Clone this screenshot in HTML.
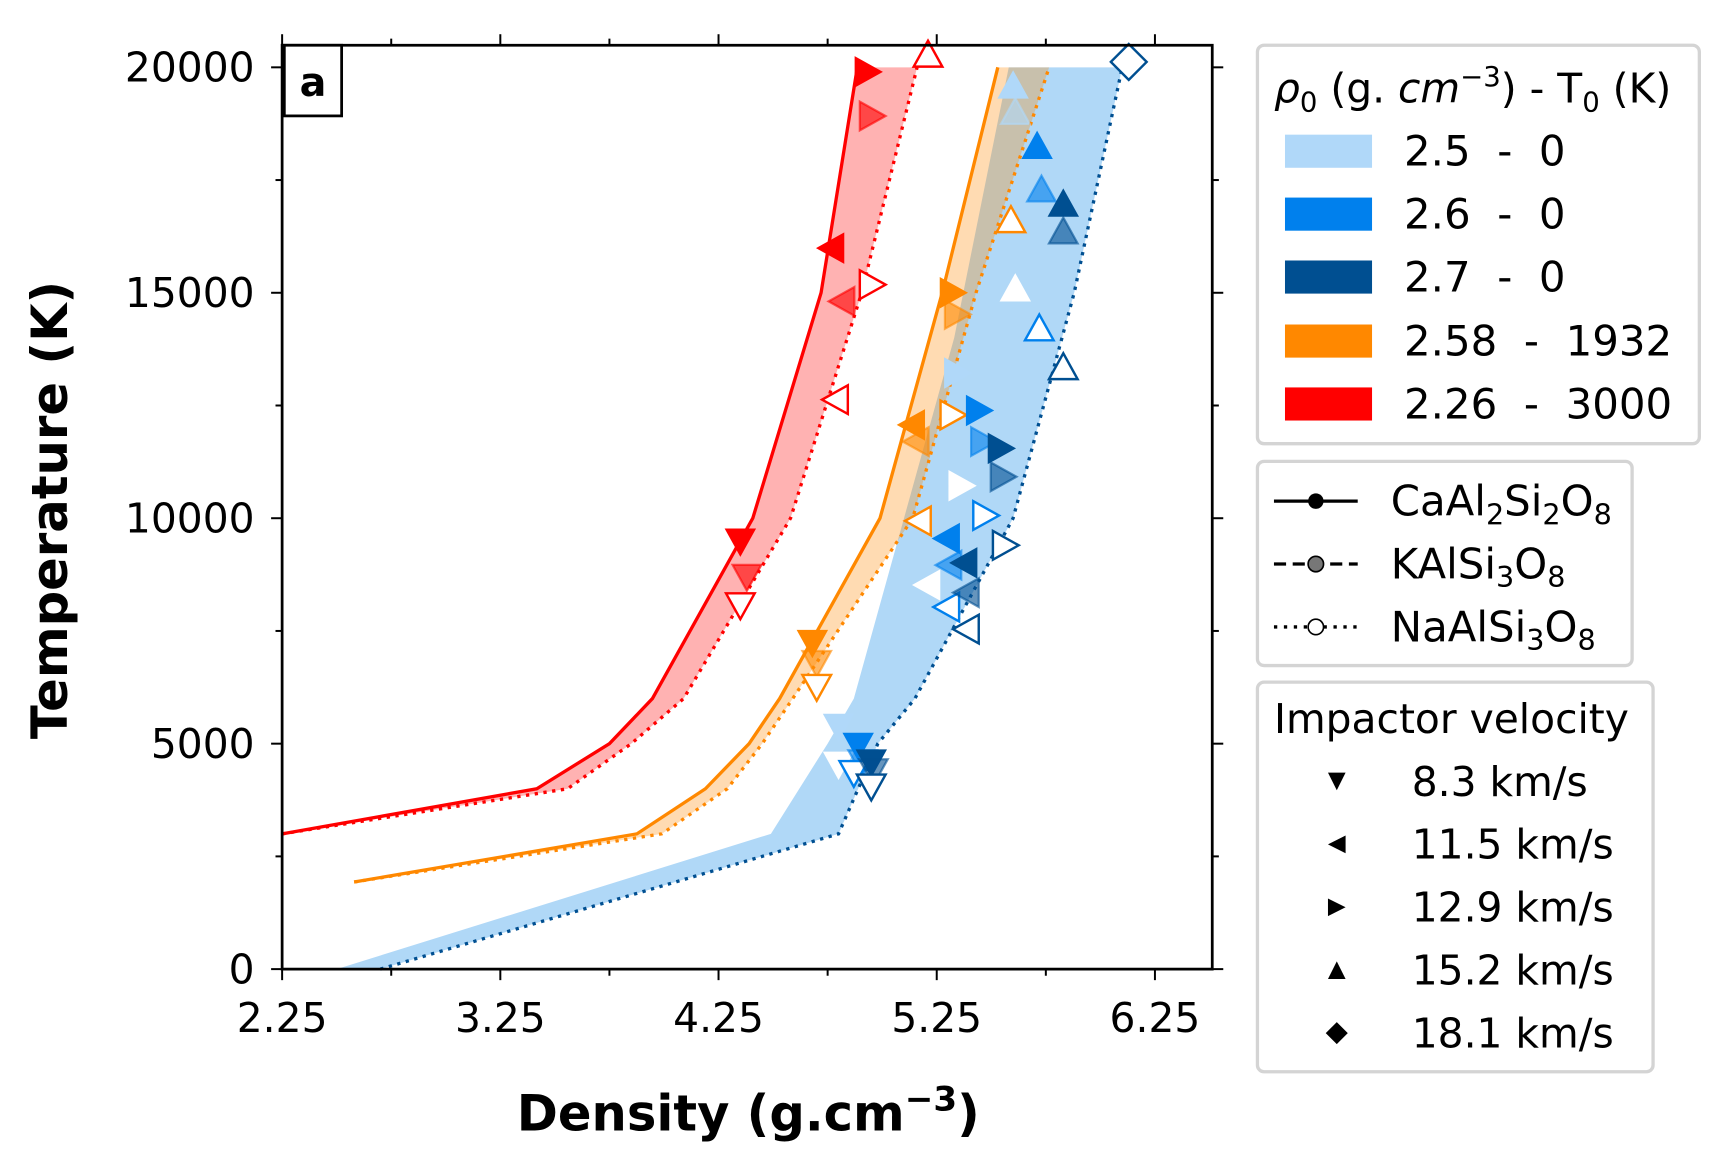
<!DOCTYPE html>
<html><head><meta charset="utf-8"><style>
html,body{margin:0;padding:0;background:#fff;}
svg{display:block;font-family:"DejaVu Sans","Liberation Sans",sans-serif;}
text{white-space:pre;}
</style></head><body>
<svg id="chart" width="1728" height="1170" viewBox="0 0 1568 1060" preserveAspectRatio="none" xmlns="http://www.w3.org/2000/svg" xml:space="preserve">
<g id="fills"></g><g id="lines"></g><g id="marks"></g><g id="axes"></g>
<rect x="258" y="41" width="52" height="64" fill="#fff" stroke="#000" stroke-width="2.5"/>
<text x="284" y="87" font-size="36" font-weight="bold" text-anchor="middle">a</text>
<text transform="translate(61,462) rotate(-90)" font-size="45" font-weight="bold" text-anchor="middle">Temperature (K)</text>
<text x="679" y="1024" font-size="45" font-weight="bold" text-anchor="middle">Density (g.cm<tspan font-size="31" dy="-18">−3</tspan><tspan dy="18">)</tspan></text>

<g>
<rect x="1141" y="41" width="401" height="361" rx="6" fill="#fff" stroke="#d4d4d4" stroke-width="3"/>
<text x="1156" y="93" font-size="37"><tspan font-style="italic">ρ</tspan><tspan font-size="25" dy="8">0</tspan><tspan dy="-8"> (g.</tspan><tspan font-style="italic"> cm</tspan><tspan font-size="25" dy="-15">−3</tspan><tspan dy="15">) - T</tspan><tspan font-size="25" dy="8">0</tspan><tspan dy="-8"> (K)</tspan></text>
<rect x="1166" y="122" width="79" height="30" fill="#b0d8f9"/>
<text x="1274" y="150" font-size="38">2.5  -  0</text>
<rect x="1166" y="179" width="79" height="30" fill="#0080ed"/>
<text x="1274" y="207" font-size="38">2.6  -  0</text>
<rect x="1166" y="236" width="79" height="30" fill="#004f91"/>
<text x="1274" y="264" font-size="38">2.7  -  0</text>
<rect x="1166" y="294" width="79" height="30" fill="#ff8800"/>
<text x="1274" y="322" font-size="38">2.58  -  1932</text>
<rect x="1166" y="351" width="79" height="30" fill="#ff0000"/>
<text x="1274" y="379" font-size="38">2.26  -  3000</text>
</g>

<g>
<rect x="1141" y="418" width="340" height="185" rx="6" fill="#fff" stroke="#d4d4d4" stroke-width="3"/>
<line x1="1156" y1="454" x2="1232" y2="454" stroke="#000" stroke-width="3"/><circle cx="1194" cy="454" r="7" fill="#000"/>
<text x="1262" y="467" font-size="38">CaAl<tspan font-size="26" dy="8">2</tspan><tspan dy="-8">Si</tspan><tspan font-size="26" dy="8">2</tspan><tspan dy="-8">O</tspan><tspan font-size="26" dy="8">8</tspan></text>
<line x1="1156" y1="511" x2="1232" y2="511" stroke="#000" stroke-width="3" stroke-dasharray="11,6"/><circle cx="1194" cy="511" r="7" fill="#777" stroke="#000" stroke-width="1.5"/>
<text x="1262" y="524" font-size="38">KAlSi<tspan font-size="26" dy="8">3</tspan><tspan dy="-8">O</tspan><tspan font-size="26" dy="8">8</tspan></text>
<line x1="1156" y1="568" x2="1232" y2="568" stroke="#000" stroke-width="3" stroke-dasharray="3,6"/><circle cx="1194" cy="568" r="7" fill="#fff" stroke="#000" stroke-width="1.5"/>
<text x="1262" y="581" font-size="38">NaAlSi<tspan font-size="26" dy="8">3</tspan><tspan dy="-8">O</tspan><tspan font-size="26" dy="8">8</tspan></text>
</g>

<g>
<rect x="1141" y="618" width="359" height="353" rx="6" fill="#fff" stroke="#d4d4d4" stroke-width="3"/>
<text x="1156" y="664" font-size="37">Impactor velocity</text>
<path d="M1205,700 L1221,700 L1213,716 Z" fill="#000"/><text x="1281" y="721" font-size="37">8.3 km/s</text>
<path d="M1221,757 L1221,773 L1205,765 Z" fill="#000"/><text x="1281" y="778" font-size="37">11.5 km/s</text>
<path d="M1205,814 L1205,830 L1221,822 Z" fill="#000"/><text x="1281" y="835" font-size="37">12.9 km/s</text>
<path d="M1205,887 L1221,887 L1213,871 Z" fill="#000"/><text x="1281" y="892" font-size="37">15.2 km/s</text>
<path d="M1213,926 L1223,936 L1213,946 L1203,936 Z" fill="#000"/><text x="1281" y="949" font-size="37">18.1 km/s</text>
</g>
</svg>
<script>
// ---- data ----
const redSolidX = [2.25, 3.417, 3.75, 3.947, 4.407, 4.72, 4.886];
const redSolidY = [3000, 4000, 5000, 6000, 10000, 15000, 20000];
const redDotX = [2.25, 3.558, 3.85, 4.09, 4.58, 4.906, 5.16];
const redDotY = [3000, 4000, 5000, 6000, 10000, 15000, 20000];
const orSolidX = [2.58, 3.876, 4.19, 4.39, 4.53, 4.99, 5.275, 5.53];
const orSolidY = [1932, 3000, 4000, 5000, 6000, 10000, 15000, 20000];
const orDotX = [2.58, 3.99, 4.29, 4.45, 4.59, 5.14, 5.43, 5.765];
const orDotY = [1932, 3000, 4000, 5000, 6000, 10000, 15000, 20000];
const blueLeftX = [2.5, 4.49, 4.75, 4.87, 5.10, 5.33, 5.58];
const blueLeftY = [0, 3000, 5000, 6000, 10000, 14000, 20000];
const blueDotX = [2.70, 4.80, 4.98, 5.15, 5.60, 5.88, 6.10];
const blueDotY = [0, 3000, 5000, 6000, 10000, 15000, 20000];
const xTicks = [2.25, 3.25, 4.25, 5.25, 6.25];
const yTicks = [0, 5000, 10000, 15000, 20000];
// markers: [density, temperature]
const mkX = [4.93,4.95,5.21,4.77,4.82,4.95,4.79,4.35,4.38,4.35,
 5.32,5.34,5.59,5.14,5.16,5.32,5.17,4.68,4.70,4.70,
 5.60,5.61,5.61,5.34,5.36,5.21,4.80,4.80,
 5.71,5.73,5.72,5.44,5.46,5.47,5.30,5.31,5.30,4.89,4.91,4.87,
 5.83,5.83,5.83,5.54,5.55,5.56,5.38,5.39,5.39,4.95,4.96,4.95,6.13];
const mkY = [19900,18920,20270,15990,14810,15180,12630,9500,8710,8080,
 15000,14520,16600,12070,11700,12290,9940,7250,6800,6270,
 19580,19000,15080,13220,10720,8520,5390,4550,
 18240,17280,14200,12390,11700,10060,9550,8960,8030,4970,4600,4360,
 16960,16350,13340,11550,10920,9400,9010,8350,7540,4600,4400,4060,20120];
const mkShape = ['>','>','^','<','<','>','<','v','v','v',
 '>','>','^','<','<','>','<','v','v','v',
 '^','^','^','>','>','<','v','v',
 '^','^','^','>','>','>','<','<','<','v','v','v',
 '^','^','^','>','>','>','<','<','<','v','v','v','D'];
const mkStyle = ['s','a','o','s','a','o','o','s','a','o',
 's','a','o','s','a','o','o','s','a','o',
 's','a','w','s','w','w','s','w',
 's','a','o','s','a','o','s','a','o','s','a','o',
 's','a','o','s','a','o','s','a','o','s','a','o','o'];
const mkGroup = ['r','r','r','r','r','r','r','r','r','r',
 'o','o','o','o','o','o','o','o','o','o',
 'l','l','l','l','l','l','l','l',
 'b','b','b','b','b','b','b','b','b','b','b','b',
 'd','d','d','d','d','d','d','d','d','d','d','d','d'];
const colors = {r:'#ff0000',o:'#ff8800',l:'#b0d8f9',b:'#0080ed',d:'#004f91'};

// ---- axes ----
const X0=256, X1=1100, Y0=878, Y1=41;
const xs = v => X0 + (v-2.25)*198;
const ys = v => Y0 - v*817/20000;
const NS='http://www.w3.org/2000/svg';
function mk(tag, attrs, parent){const e=document.createElementNS(NS,tag);for(const k in attrs)e.setAttribute(k,attrs[k]);parent.appendChild(e);return e;}
const gF=document.getElementById('fills'), gL=document.getElementById('lines'), gM=document.getElementById('marks'), gA=document.getElementById('axes');
function pts(X,Y){return X.map((x,i)=>xs(x)+','+ys(Y[i]));}

let p;
p=mk('polygon',{points:pts(blueLeftX,blueLeftY).concat(pts(blueDotX,blueDotY).reverse()).join(' '),fill:'#b0d8f7'},gF);


p=mk('polygon',{points:pts(redSolidX,redSolidY).concat(pts(redDotX,redDotY).reverse()).join(' '),fill:'#ff0000','fill-opacity':0.3},gF);


p=mk('polygon',{points:pts(orSolidX,orSolidY).concat(pts(orDotX,orDotY).reverse()).join(' '),fill:'#ff8800','fill-opacity':0.3},gF);



p=mk('polyline',{points:pts(redSolidX,redSolidY).join(' '),fill:'none',stroke:'#ff0000','stroke-width':3},gL);


p=mk('polyline',{points:pts(redDotX,redDotY).join(' '),fill:'none',stroke:'#ff0000','stroke-width':3,'stroke-dasharray':'3,5'},gL);


p=mk('polyline',{points:pts(orSolidX,orSolidY).join(' '),fill:'none',stroke:'#ff8800','stroke-width':3},gL);


p=mk('polyline',{points:pts(orDotX,orDotY).join(' '),fill:'none',stroke:'#ff8800','stroke-width':3,'stroke-dasharray':'3,5'},gL);


p=mk('polyline',{points:pts(blueDotX,blueDotY).join(' '),fill:'none',stroke:'#004f91','stroke-width':3,'stroke-dasharray':'3,5'},gL);



const S=13;
function shapePath(s,cx,cy){
  if(s==='v')return `M${cx-S},${cy-S*0.8} L${cx+S},${cy-S*0.8} L${cx},${cy+S} Z`;
  if(s==='^')return `M${cx-S},${cy+S*0.8} L${cx+S},${cy+S*0.8} L${cx},${cy-S} Z`;
  if(s==='<')return `M${cx+S*0.8},${cy-S} L${cx+S*0.8},${cy+S} L${cx-S},${cy} Z`;
  if(s==='>')return `M${cx-S*0.8},${cy-S} L${cx-S*0.8},${cy+S} L${cx+S},${cy} Z`;
  return `M${cx},${cy-S*1.25} L${cx+S*1.25},${cy} L${cx},${cy+S*1.25} L${cx-S*1.25},${cy} Z`;
}
mkX.forEach((x,i)=>{
  const c=colors[mkGroup[i]], st=mkStyle[i];
  const a={d:shapePath(mkShape[i],xs(x),ys(mkY[i]))};
  if(st==='s'){a.fill=c;a.stroke=c;a['stroke-width']=1.5;}
  else if(st==='a'){a.fill=c;a['fill-opacity']=0.6;a.stroke=c;a['stroke-opacity']=0.6;a['stroke-width']=2;}
  else if(st==='w'){a.fill='#fff';a.stroke='#fff';a['stroke-width']=1.5;}
  else {a.fill='#fff';a.stroke=c;a['stroke-width']=2.2;}
  const m=mk('path',a,gM);
  
  
});

// frame and ticks
p=mk('rect',{x:X0,y:Y1,width:X1-X0,height:Y0-Y1,fill:'none',stroke:'#000','stroke-width':2.5},gA);


for(let v=2.25; v<=6.5; v+=0.5){
  const X=xs(v), major=Math.abs((v-2.25)%1)<1e-6, L=major?10:6;
  mk('line',{x1:X,y1:Y0,x2:X,y2:Y0+L,stroke:'#000','stroke-width':1.8},gA);
  mk('line',{x1:X,y1:Y1,x2:X,y2:Y1-L,stroke:'#000','stroke-width':1.8},gA);
}
for(let v=0; v<=20000; v+=2500){
  const Y=ys(v), major=v%5000===0, L=major?10:6;
  mk('line',{x1:X0,y1:Y,x2:X0-L,y2:Y,stroke:'#000','stroke-width':1.8},gA);
  mk('line',{x1:X1,y1:Y,x2:X1+L,y2:Y,stroke:'#000','stroke-width':1.8},gA);
}
xTicks.forEach(v=>{
  const t=mk('text',{x:xs(v),y:935,'font-size':37,'text-anchor':'middle'},gA);
  t.textContent=v.toFixed(2);
  
  
});
yTicks.forEach(v=>{
  const t=mk('text',{x:231,y:ys(v)+13,'font-size':37,'text-anchor':'end'},gA);
  t.textContent=String(v);
  
  
});
</script>
</body></html>
